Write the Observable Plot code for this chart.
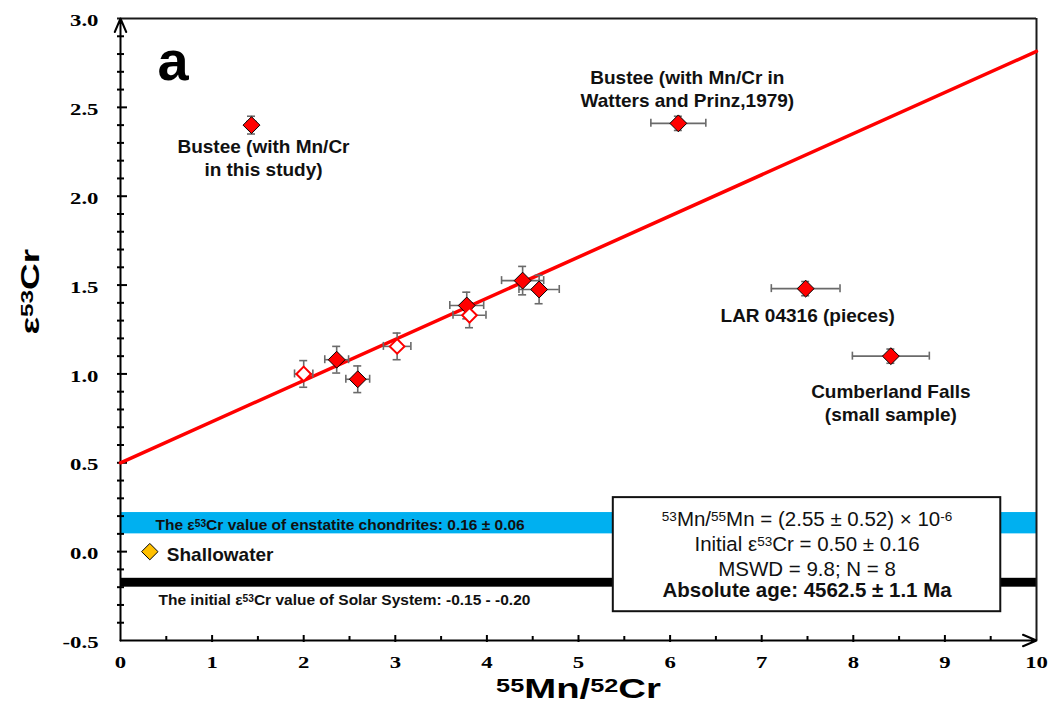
<!DOCTYPE html>
<html><head><meta charset="utf-8">
<script src="https://cdn.jsdelivr.net/npm/d3@7"></script>
<script src="https://cdn.jsdelivr.net/npm/@observablehq/plot@0.6"></script>
<style>body{margin:0;background:#fff} svg{display:block}</style>
</head><body><div id="chart"></div>
<script>
// ---------- data ----------
const sampleName = ["Bustee (this study)", "Bustee (Watters and Prinz 1979)", "LAR 04316 (pieces)", "Cumberland Falls (small sample)",
  "s1", "s2", "s3", "s4", "s5", "s6", "s7", "s8"];
const sampleX    = [1.43, 6.09, 7.48, 8.41, 2.00, 2.36, 2.59, 3.02, 3.78, 3.81, 4.39, 4.57];
const sampleY    = [2.40, 2.41, 1.48, 1.10, 1.00, 1.08, 0.97, 1.155, 1.385, 1.33, 1.525, 1.475];
const sampleXErr = [0.05, 0.30, 0.375, 0.42, 0.10, 0.13, 0.13, 0.15, 0.185, 0.18, 0.23, 0.22];
const sampleYErr = [0.05, 0.04, 0.04, 0.04, 0.075, 0.075, 0.075, 0.075, 0.075, 0.07, 0.08, 0.08];
const sampleOpen = [false, false, false, false, true, false, false, true, false, true, false, false];

const shallowX = [0.32];
const shallowY = [0.00];

const fitX = [0, 10];
const fitY = [0.50, 2.815];

const ecBand = [0.10, 0.22];     // enstatite chondrites 0.16 ± 0.06
const ssBand = [-0.20, -0.15];   // initial Solar System

const xDomain = [0, 10];
const yDomain = [-0.5, 3.0];
const xTickValues = [0, 1, 2, 3, 4, 5, 6, 7, 8, 9, 10];
const xTickLabels = ["0", "1", "2", "3", "4", "5", "6", "7", "8", "9", "10"];
const xMinorTicks = [0.5, 1.5, 2.5, 3.5, 4.5, 5.5, 6.5, 7.5, 8.5, 9.5];
const yTickValues = [-0.5, 0, 0.5, 1.0, 1.5, 2.0, 2.5, 3.0];
const yTickLabels = ["-0.5", "0.0", "0.5", "1.0", "1.5", "2.0", "2.5", "3.0"];
const yMinorTicks = [-0.4, -0.3, -0.2, -0.1, 0.1, 0.2, 0.3, 0.4, 0.6, 0.7, 0.8, 0.9, 1.1, 1.2, 1.3, 1.4,
  1.6, 1.7, 1.8, 1.9, 2.1, 2.2, 2.3, 2.4, 2.6, 2.7, 2.8, 2.9];

const labelText = ["Bustee (with Mn/Cr\nin this study)", "Bustee (with Mn/Cr in\nWatters and Prinz,1979)",
  "LAR 04316 (pieces)", "Cumberland Falls\n(small sample)"];
const labelOf = [0, 1, 2, 3];
const shallowLabel = "Shallowater";
const ecLabel = "The ε{53}Cr value of enstatite chondrites: 0.16 ± 0.06";
const ssLabel = "The initial ε{53}Cr value of Solar System: -0.15 - -0.20";
const statLines = ["{53}Mn/{55}Mn = (2.55 ± 0.52) × 10{-6}", "Initial ε{53}Cr = 0.50 ± 0.16", "MSWD = 9.8; N = 8"];
const ageLine = "Absolute age: 4562.5 ± 1.1 Ma";
const boxX = [5.38, 9.61];
const boxY = [-0.338, 0.304];
const panelLabel = "a";
const xTitle = "{55}Mn/{52}Cr";
const yTitle = "ε{53}Cr";

// ---------- layout (offsets in px) ----------
const labelOffset = [[12, 32], [9, -35], [2, 26], [0, 46]];

const pts = sampleX.map((x, i) => ({name: sampleName[i], x, y: sampleY[i], xe: sampleXErr[i], ye: sampleYErr[i], open: sampleOpen[i]}));
const shallow = shallowX.map((x, i) => ({x, y: shallowY[i]}));
const fit = fitX.map((x, i) => ({x, y: fitY[i]}));

const SANS = "Liberation Sans, Arial, sans-serif";
const SERIF = "Liberation Serif, Times New Roman, serif";
const errColor = "#6a6a6a";

const labelMarks = labelText.map((t, k) => Plot.text([pts[labelOf[k]]], {
  x: "x", y: "y", text: () => t, dx: labelOffset[k][0], dy: labelOffset[k][1],
  fontSize: 19, fontWeight: "bold", lineHeight: 1.2, lineAnchor: "middle", fill: "#111"
}));

const chart = Plot.plot({
  width: 1048, height: 719,
  marginLeft: 120, marginRight: 12, marginTop: 18, marginBottom: 79,
  x: {domain: xDomain, axis: null},
  y: {domain: yDomain, axis: null},
  style: {fontFamily: SANS, background: "#fff", overflow: "visible"},
  marks: [
    // bands
    Plot.rect([ecBand], {x1: () => xDomain[0], x2: () => xDomain[1], y1: d => d[0], y2: d => d[1], fill: "#00B0F0"}),
    Plot.rect([ssBand], {x1: () => xDomain[0], x2: () => xDomain[1], y1: d => d[0], y2: d => d[1], fill: "#000"}),
    // frame (top & right)
    Plot.ruleY([yDomain[1]], {y: d => d, x1: () => xDomain[0], x2: () => xDomain[1], stroke: "#1a1a1a", strokeWidth: 2, insetLeft: -3}),
    Plot.ruleX([xDomain[1]], {x: d => d, y1: () => yDomain[0], y2: () => yDomain[1], stroke: "#1a1a1a", strokeWidth: 2}),
    // axes with arrows
    Plot.arrow([0], {x1: () => xDomain[0], x2: () => xDomain[0], y1: () => yDomain[0], y2: () => yDomain[1],
      stroke: "#000", strokeWidth: 2, headLength: 11, headAngle: 46}),
    Plot.arrow([0], {x1: () => xDomain[0], x2: () => xDomain[1], y1: () => yDomain[0], y2: () => yDomain[0],
      stroke: "#000", strokeWidth: 2, headLength: 11, headAngle: 46}),
    // ticks
    Plot.ruleY(yTickValues.slice(1, -1), {y: d => d, x1: () => 0, x2: () => 0, insetLeft: -3, insetRight: -7, stroke: "#000", strokeWidth: 2}),
    Plot.ruleY(yMinorTicks, {y: d => d, x1: () => 0, x2: () => 0, insetLeft: -3, insetRight: -4, stroke: "#000", strokeWidth: 2}),
    Plot.ruleX(xTickValues.slice(1, -1), {x: d => d, y1: () => -0.5, y2: () => -0.5, insetTop: -5, insetBottom: -2, stroke: "#000", strokeWidth: 2}),
    Plot.ruleX(xMinorTicks, {x: d => d, y1: () => -0.5, y2: () => -0.5, insetTop: -4, insetBottom: -1, stroke: "#000", strokeWidth: 2}),
    // tick labels
    Plot.text(xTickValues, {x: d => d, frameAnchor: "bottom", text: (d, i) => xTickLabels[i], dy: 27,
      fontFamily: SERIF, fontWeight: "bold", fontSize: 17.5, fill: "#000"}),
    Plot.text(yTickValues, {y: d => d, frameAnchor: "left", text: (d, i) => yTickLabels[i], dx: -22, dy: 2, textAnchor: "end",
      fontFamily: SERIF, fontWeight: "bold", fontSize: 17.5, fill: "#000"}),
    // regression line
    Plot.line(fit, {x: "x", y: "y", stroke: "#FF0000", strokeWidth: 3.5}),
    // error bars
    Plot.ruleY(pts, {y: "y", x1: d => d.x - d.xe, x2: d => d.x + d.xe, stroke: errColor, strokeWidth: 1.6}),
    Plot.ruleX(pts, {x: "x", y1: d => d.y - d.ye, y2: d => d.y + d.ye, stroke: errColor, strokeWidth: 1.6}),
    Plot.ruleX(pts, {x: d => d.x - d.xe, y1: "y", y2: "y", insetTop: -4, insetBottom: -4, stroke: errColor, strokeWidth: 1.6}),
    Plot.ruleX(pts, {x: d => d.x + d.xe, y1: "y", y2: "y", insetTop: -4, insetBottom: -4, stroke: errColor, strokeWidth: 1.6}),
    Plot.ruleY(pts, {y: d => d.y - d.ye, x1: "x", x2: "x", insetLeft: -4, insetRight: -4, stroke: errColor, strokeWidth: 1.6}),
    Plot.ruleY(pts, {y: d => d.y + d.ye, x1: "x", x2: "x", insetLeft: -4, insetRight: -4, stroke: errColor, strokeWidth: 1.6}),
    // markers
    Plot.dot(pts.filter(d => !d.open), {x: "x", y: "y", symbol: "diamond2", r: 7.6, fill: "#FF0000", stroke: "#000", strokeWidth: 1}),
    Plot.dot(pts.filter(d => d.open), {x: "x", y: "y", symbol: "diamond2", r: 6.6, fill: "#fff", stroke: "#FF0000", strokeWidth: 2}),
    Plot.dot(shallow, {x: "x", y: "y", symbol: "diamond2", r: 7.4, fill: "#FFC000", stroke: "#000", strokeWidth: 1}),
    // labels
    ...labelMarks,
    Plot.text(shallow, {x: "x", y: "y", text: () => shallowLabel, dx: 17, dy: 3, textAnchor: "start",
      fontSize: 19, fontWeight: "bold", fill: "#111"}),
    Plot.text([ecBand], {x: () => xDomain[0], y: d => (d[0] + d[1]) / 2, text: () => ecLabel, dx: 35, dy: 2, textAnchor: "start",
      fontSize: 15.5, fontWeight: "bold", fill: "#111"}),
    Plot.text([ssBand], {x: () => xDomain[0], y: d => (d[0] + d[1]) / 2, text: () => ssLabel, dx: 38, dy: 17, textAnchor: "start",
      fontSize: 15.5, fontWeight: "bold", fill: "#111"}),
    Plot.text([panelLabel], {x: () => xDomain[0], y: () => yDomain[1], text: d => d, dx: 37, dy: 44, textAnchor: "start",
      fontSize: 56, fontWeight: "bold", fill: "#000"}),
    // statistics box
    Plot.rect([0], {x1: () => boxX[0], x2: () => boxX[1], y1: () => boxY[0], y2: () => boxY[1], fill: "#fff", stroke: "#111", strokeWidth: 2}),
    Plot.text([statLines.join("\n")], {x: () => (boxX[0] + boxX[1]) / 2, y: () => boxY[1], text: d => d, dy: 11, lineAnchor: "top",
      lineHeight: 1.22, fontSize: 20.5, fill: "#111"}),
    Plot.text([ageLine], {x: () => (boxX[0] + boxX[1]) / 2, y: () => boxY[1], text: d => d, dy: 93, lineAnchor: "middle",
      fontSize: 20.5, fontWeight: "bold", fill: "#111"}),
    // axis titles
    Plot.text([xTitle], {frameAnchor: "bottom", text: d => d, dy: 57, fontSize: 27, fontWeight: "bold", fill: "#000"}),
    Plot.text([yTitle], {frameAnchor: "left", text: d => d, dx: -90, dy: 5, rotate: -90, fontSize: 26, fontWeight: "bold", fill: "#000"})
  ]
});

// horizontal stretch of some texts (as in the reference), chosen by content
function stretchWhere(root, pred, s) {
  d3.select(root).selectAll("text").each(function() {
    if (!pred(this)) return;
    const tr = this.getAttribute("transform");
    if (tr) this.setAttribute("transform", tr + ` scale(${s},1)`);
    else {
      const x = +this.getAttribute("x") || 0, y = +this.getAttribute("y") || 0;
      this.removeAttribute("x"); this.removeAttribute("y");
      this.setAttribute("transform", `translate(${x},${y}) scale(${s},1)`);
    }
  });
}
// superscripts written as {..}
function richText(root) {
  const nodes = [];
  d3.select(root).selectAll("text, tspan").each(function() { nodes.push(this); });
  nodes.forEach(node => {
    if (node.children.length) return;
    const s = node.textContent;
    if (!s.includes("{")) return;
    const parts = s.split(/\{([^}]*)\}/);
    node.textContent = "";
    parts.forEach((p, i) => {
      if (!p) return;
      const t = d3.select(node).append("tspan").text(p);
      if (i % 2) t.attr("baseline-shift", "33%").attr("font-size", "66%");
    });
  });
}
const tickSet = new Set([...xTickLabels, ...yTickLabels]);
stretchWhere(chart, n => n.children.length === 0 && tickSet.has(n.textContent) &&
  (n.closest("g").getAttribute("font-family") || "").startsWith("Liberation Serif"), 1.3);
stretchWhere(chart, n => n.textContent === xTitle, 1.42);
stretchWhere(chart, n => n.textContent === yTitle, 1.42);
richText(chart);
document.getElementById("chart").appendChild(chart);
</script>
</body></html>
